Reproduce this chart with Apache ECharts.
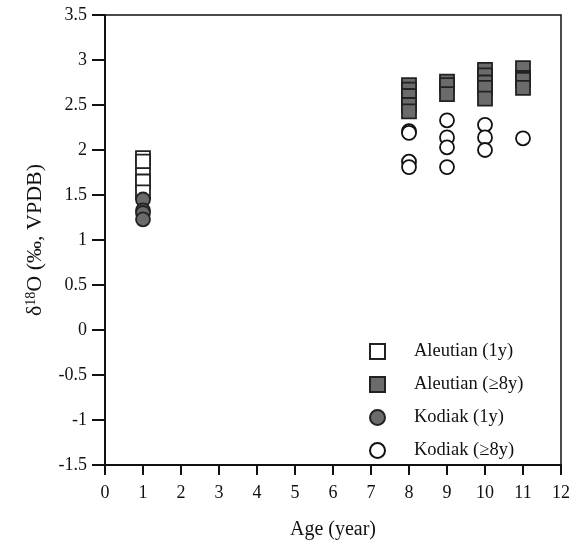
<!DOCTYPE html>
<html>
<head>
<meta charset="utf-8">
<script src="https://cdn.jsdelivr.net/npm/echarts@6/dist/echarts.min.js"></script>
<style>
  html, body { margin: 0; padding: 0; background: #fff; }
  #chart { width: 583px; height: 547px; }
</style>
</head>
<body>
<div id="chart"></div>
<script>
// values: [age, d18O]
var aleutian1y = [[1, 1.91], [1, 1.87], [1, 1.72], [1, 1.65], [1, 1.53]];
var aleutian8y = [
  [8, 2.72], [8, 2.67], [8, 2.6], [8, 2.5], [8, 2.43],
  [9, 2.76], [9, 2.72], [9, 2.62],
  [10, 2.89], [10, 2.83], [10, 2.75], [10, 2.69], [10, 2.57],
  [11, 2.91], [11, 2.8], [11, 2.78], [11, 2.69]
];
var kodiak1y = [[1, 1.45], [1, 1.33], [1, 1.3], [1, 1.23]];
var kodiak8y = [
  [8, 2.21], [8, 2.19], [8, 1.87], [8, 1.81],
  [9, 2.33], [9, 2.14], [9, 2.03], [9, 1.81],
  [10, 2.28], [10, 2.14], [10, 2.0],
  [11, 2.13]
];
var seriesNames = ['Aleutian (1y)', 'Aleutian (\u22658y)', 'Kodiak (1y)', 'Kodiak (\u22658y)'];

var font = '"Liberation Serif", "Times New Roman", serif';
var chart = echarts.init(document.getElementById('chart'));

function scatter(name, data, symbol, fill, border) {
  return {
    name: name,
    type: 'scatter',
    data: data,
    symbol: symbol,
    symbolSize: 14,
    itemStyle: { color: fill, borderColor: border, borderWidth: 1.8, opacity: 1 },
    emphasis: { disabled: true }
  };
}

var option = {
  animation: false,
  backgroundColor: '#fff',
  textStyle: { fontFamily: font },
  grid: {
    left: 105, right: 22, top: 15, bottom: 82,
    show: true, borderColor: '#111', borderWidth: 1.5, backgroundColor: 'transparent'
  },
  legend: {
    orient: 'vertical',
    left: 364, top: 337,
    itemWidth: 15, itemHeight: 15, itemGap: 14,
    data: seriesNames,
    textStyle: { fontFamily: font, fontSize: 18.5, color: '#111', padding: [0, 0, 0, 24] }
  },
  xAxis: {
    type: 'value',
    min: 0, max: 12, interval: 1,
    name: 'Age (year)',
    nameLocation: 'middle',
    nameGap: 55,
    nameTextStyle: { fontFamily: font, fontSize: 20, color: '#111' },
    axisLine: { onZero: false, lineStyle: { color: '#111', width: 2 } },
    axisTick: { inside: false, length: 10, lineStyle: { color: '#111', width: 2 } },
    axisLabel: { fontFamily: font, fontSize: 18, color: '#111', margin: 19 },
    splitLine: { show: false }
  },
  yAxis: {
    type: 'value',
    min: -1.5, max: 3.5, interval: 0.5,
    name: '{d|\u03b4}{s|18}{d|O (\u2030, VPDB)}',
    nameLocation: 'middle',
    nameGap: 58,
    nameRotate: 90,
    nameTextStyle: {
      fontFamily: font, fontSize: 22, color: '#111',
      rich: {
        d: { fontFamily: font, fontSize: 22, color: '#111' },
        s: { fontFamily: font, fontSize: 14, color: '#111', padding: [0, 0, 9, 0] }
      }
    },
    axisLine: { onZero: false, lineStyle: { color: '#111', width: 2 } },
    axisTick: { inside: false, length: 13, lineStyle: { color: '#111', width: 2 } },
    axisLabel: { fontFamily: font, fontSize: 18, color: '#111', margin: 18 },
    splitLine: { show: false }
  },
  series: [
    scatter(seriesNames[0], aleutian1y, 'rect', '#ffffff', '#222'),
    scatter(seriesNames[1], aleutian8y, 'rect', '#6b6b6b', '#222'),
    scatter(seriesNames[2], kodiak1y, 'circle', '#6b6b6b', '#222'),
    scatter(seriesNames[3], kodiak8y, 'circle', '#ffffff', '#111')
  ]
};
chart.setOption(option);
</script>
</body>
</html>
